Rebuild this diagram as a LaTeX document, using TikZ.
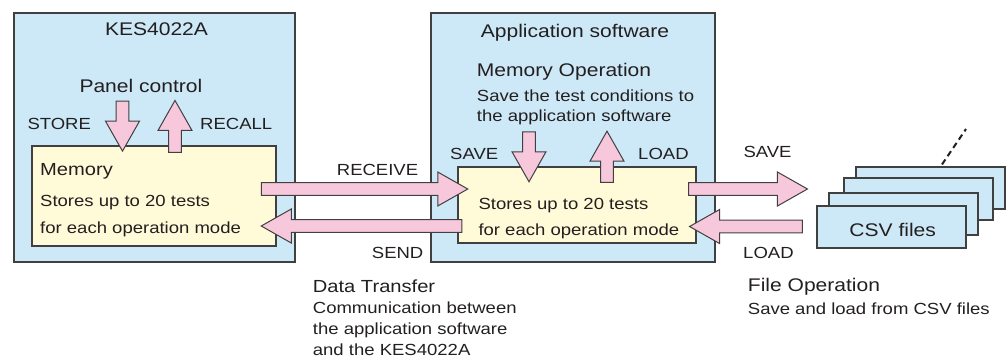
\documentclass[tikz,border=0pt]{standalone}
\usepackage{fontspec}
\setmainfont{Liberation Sans}[FakeStretch=1.15]
\usepackage{tikz}
\usetikzlibrary{calc, positioning}

\definecolor{boxblue}{RGB}{205,233,247}
\definecolor{memyellow}{RGB}{255,250,215}
\definecolor{arrowpink}{RGB}{247,200,220}
\definecolor{linegray}{RGB}{64,64,64}
\definecolor{textgray}{RGB}{35,31,32}

% block arrow between two named points
\newcommand\fatarrow[2]{%
  \coordinate (hb) at ($(#2)!30pt!(#1)$);
  \draw[fat] ($(#1)!6.3pt!90:(#2)$) -- ($(hb)!6.3pt!-90:(#1)$) -- ($(hb)!17pt!-90:(#1)$) -- (#2)
    -- ($(hb)!17pt!90:(#1)$) -- ($(hb)!6.3pt!90:(#1)$) -- ($(#1)!6.3pt!-90:(#2)$) -- cycle;
}

\begin{document}
\begin{tikzpicture}[
    x=1pt, y=-1pt,
    every node/.style={text=textgray, inner sep=0pt},
    panel/.style={draw=linegray, line width=1.1pt, fill=boxblue, rectangle},
    mem/.style={draw=linegray, line width=1.1pt, fill=memyellow, rectangle},
    card/.style={draw=linegray, line width=1.1pt, fill=boxblue, minimum width=149pt, minimum height=42pt},
    fat/.style={draw=linegray, line width=1pt, fill=arrowpink, line join=miter},
    moredash/.style={draw=textgray, line width=2pt, dash pattern=on 6pt off 4pt},
    big/.style={font=\fontsize{18.3}{22}\selectfont},
    mid/.style={font=\fontsize{17.5}{21}\selectfont},
    small/.style={font=\fontsize{16.1}{21}\selectfont},
    lbl/.style={small, anchor=base west}
]
    \useasboundingbox (0,0) rectangle (1006,360);

    % instrument
    \node[panel, minimum width=281pt, minimum height=249pt] (kes) at (154.5,137.5) {};
    \node[mem, minimum width=244pt, minimum height=100pt] (kesmem) at (154,196) {};
    \node[big, anchor=base] (kestitle) at (156.5,35.7) {KES4022A};
    \node[big, anchor=base west] (panelctl) at (79.3,92.7) {Panel control};
    \node[lbl] (store) at (27.3,129.3) {STORE};
    \node[lbl] (recall) at (200,129.3) {RECALL};
    \node[mid, anchor=base west] (kesmemlbl) at (40,175) {Memory};
    \node[lbl] (kesline1) at (40,206) {Stores up to 20 tests};
    \node[lbl] (kesline2) at (40,233) {for each operation mode};

    % application
    \node[panel, minimum width=284pt, minimum height=249pt] (app) at (573,137.5) {};
    \node[mem, minimum width=238pt, minimum height=76pt] (appmem) at (577,205) {};
    \node[big, anchor=base] (apptitle) at (575,37.3) {Application software};
    \node[big, anchor=base west] (memop) at (476.7,76) {Memory Operation};
    \node[lbl] (memop1) at (476.7,101) {Save the test conditions to};
    \node[lbl] (memop2) at (476.7,121) {the application software};
    \node[lbl] (appsave) at (450,159.3) {SAVE};
    \node[lbl] (appload) at (638,159.3) {LOAD};
    \node[lbl] (appline1) at (478.3,209) {Stores up to 20 tests};
    \node[lbl] (appline2) at (478.3,235.5) {for each operation mode};

    % data transfer
    \node[lbl] (receive) at (336.7,175) {RECEIVE};
    \node[lbl] (send) at (371.7,258.3) {SEND};
    \node[mid, anchor=base west] (xfer) at (312.7,292.5) {Data Transfer};
    \node[lbl] (xfer1) at (312.7,313) {Communication between};
    \node[lbl] (xfer2) at (312.7,334) {the application software};
    \node[lbl] (xfer3) at (312.7,355) {and the KES4022A};

    % csv files
    \node[card] (csv4) at (930.5,188) {};
    \node[card] (csv3) at (918.5,199) {};
    \node[card] (csv2) at (903.5,214) {};
    \node[card] (csv1) at (891.5,227) {};
    \node[big, anchor=base] (csvlbl) at ($(csv1.center)+(1.2,9.7)$) {CSV files};
    \coordinate (more) at (966,129);
    \draw[moredash] ($(csv4.north)+(11.5,-2)$) -- (more);
    \node[lbl] (filesave) at (743.3,157.3) {SAVE};
    \node[lbl] (fileload) at (743,258.3) {LOAD};
    \node[big, anchor=base west] (fileop) at (747.7,291) {File Operation};
    \node[lbl] (fileop1) at (747.7,314) {Save and load from CSV files};

    % arrow ends
    \coordinate (storetop) at ($(kesmem.north)+(-31.5,-44.3)$);
    \coordinate (storetip) at ($(kesmem.north)+(-31.5,5.7)$);
    \coordinate (recallbot) at ($(kesmem.north)+(21,7)$);
    \coordinate (recalltip) at ($(kesmem.north)+(21,-45)$);
    \coordinate (savetop) at ($(appmem.north)+(-48,-34.7)$);
    \coordinate (savetip) at ($(appmem.north)+(-48,15.3)$);
    \coordinate (loadbot) at ($(appmem.north)+(30,16)$);
    \coordinate (loadtip) at ($(appmem.north)+(30,-35.3)$);
    \coordinate (rcvstart) at ($(kesmem.east)+(-15.3,-7)$);
    \coordinate (rcvtip) at ($(appmem.west)+(10.3,-16)$);
    \coordinate (sendstart) at ($(appmem.west)+(4.3,21)$);
    \coordinate (sendtip) at ($(kesmem.east)+(-15.3,30)$);
    \coordinate (fsavestart) at ($(appmem.east)+(-8,-16)$);
    \coordinate (fsavetip) at ($(csv1.west)+(-9,-38)$);
    \coordinate (floadstart) at ($(csv1.west)+(-14,-0.5)$);
    \coordinate (floadtip) at ($(appmem.east)+(-7,21.5)$);

    \fatarrow{storetop}{storetip}
    \fatarrow{recallbot}{recalltip}
    \fatarrow{savetop}{savetip}
    \fatarrow{loadbot}{loadtip}
    \fatarrow{rcvstart}{rcvtip}
    \fatarrow{sendstart}{sendtip}
    \fatarrow{fsavestart}{fsavetip}
    \fatarrow{floadstart}{floadtip}
\end{tikzpicture}
\end{document}
